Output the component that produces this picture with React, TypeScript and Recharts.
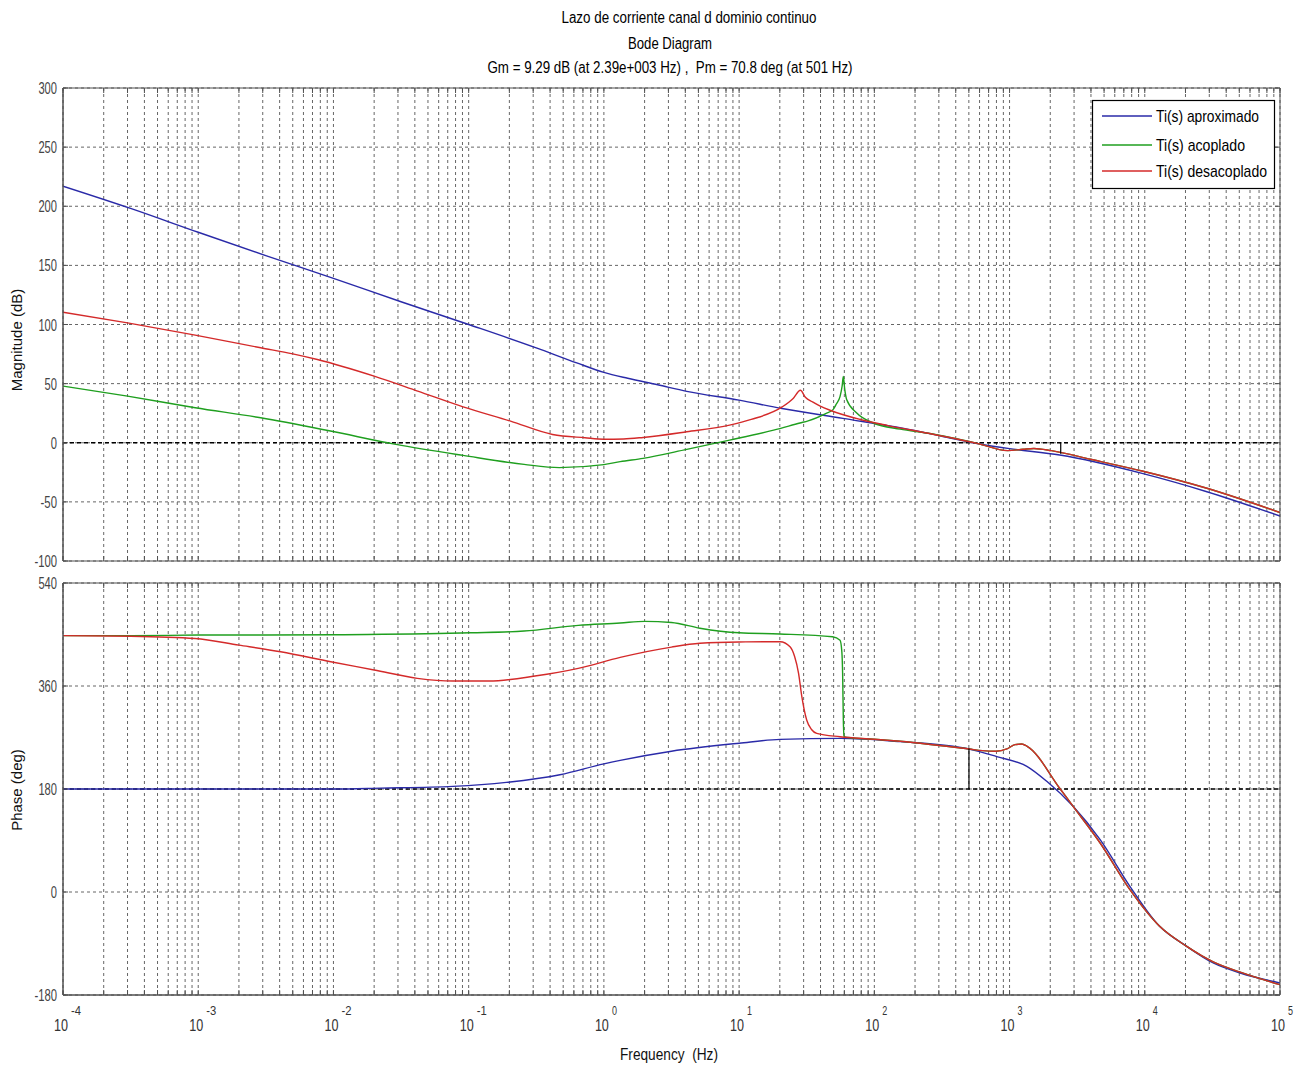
import React from "react";
import { LineChart, Line, XAxis, YAxis, CartesianGrid, ReferenceLine } from "recharts";

const FONT = '"Liberation Sans", Arial, sans-serif';

const BLUE = "#2a2aa8";
const GREEN = "#1f9f1f";
const RED = "#d42a2a";
const FRAME = "#505050";
const GRID = "#666666";

// x axis: decades and the minor steps in each
const xDecades = [1e-4, 1e-3, 1e-2, 1e-1, 1, 10, 100, 1000, 1e4, 1e5];
const xTickExponents = ["-4", "-3", "-2", "-1", "0", "1", "2", "3", "4", "5"];
const minorSteps = [1, 2, 3, 4, 5, 6, 7, 8, 9];

const magTicks = [-100, -50, 0, 50, 100, 150, 200, 250, 300];
const phaseTicks = [-180, 0, 180, 360, 540];

// margins read from the title
const GM_DB = 9.29;
const GM_FREQ = 2390;
const PM_DEG = 70.8;
const PM_FREQ = 501;

// ---- magnitude (dB) ----
const blueMagFreq = [1e-4, 3.2e-4, 1e-3, 3.2e-3, 1e-2, 3.2e-2, 0.1, 0.32, 0.63, 1, 1.5, 2.5, 4.1, 10, 20.8, 58.6, 165, 316, 575, 1000, 2350, 9550, 28800, 1e5];
const blueMagDb = [217, 198, 178, 158, 139, 119, 100, 80, 67.5, 59.5, 54.5, 49, 43.5, 36, 29, 20.6, 12.1, 5.5, -0.6, -5, -10.4, -25.9, -41.4, -62];

const greenMagFreq = [1e-4, 3e-4, 9.5e-4, 2.9e-3, 9.5e-3, 0.029, 0.091, 0.257, 0.468, 1, 1.32, 1.95, 4.1, 8.5, 18, 28.2, 32.4, 43.7, 49.5, 52.5, 55.8, 57.8, 59, 60.3, 62.5, 74.1, 98.4, 155, 251, 575, 968, 1259, 1514, 2042, 3981, 9550, 28800, 1e5];
const greenMagDb = [47.9, 39.4, 29.6, 21.1, 9.9, -1.4, -10.7, -18.3, -21, -18.5, -16, -13.2, -5.6, 2.2, 10.7, 16.7, 18.5, 24.7, 28, 33, 39.2, 48, 56, 46, 36.4, 25.2, 16.7, 11.5, 8, -0.5, -6.7, -5.5, -4.8, -6.7, -14, -23.9, -38.5, -59];

const redMagFreq = [1e-4, 3e-4, 9.5e-4, 2.9e-3, 5e-3, 7.6e-3, 0.02, 0.042, 0.091, 0.204, 0.417, 0.724, 1, 1.4, 1.95, 4.1, 8.5, 12.3, 20.8, 25.1, 28.4, 30.9, 34.9, 39.8, 47, 78.5, 126, 251, 575, 968, 1259, 1514, 2042, 3981, 9550, 28800, 1e5];
const redMagDb = [110.4, 101.4, 91, 80.3, 75.2, 70.4, 56.3, 43.7, 30.4, 18.3, 7, 4.2, 3, 3.2, 4.5, 9.3, 14.9, 19.7, 30.3, 37.5, 44.4, 38.5, 34.5, 31, 27.5, 19.7, 14.5, 8, -0.5, -6.7, -5.5, -4.8, -6.7, -14, -23.9, -38.5, -59];

// ---- phase (deg) ----
const bluePhaseFreq = [1e-4, 1e-3, 1e-2, 0.0224, 0.0767, 0.19, 0.473, 1, 1.32, 3.16, 10, 20.1, 56.2, 155, 501, 805, 1343, 1884, 2951, 4677, 7762, 12880, 20420, 32060, 50820, 1e5];
const bluePhaseDeg = [180, 180, 180, 181.5, 184.6, 191.6, 205, 224, 230, 246, 260, 266.8, 268.5, 262.7, 250, 236.5, 219.6, 193.4, 149.7, 91.5, 10, -60, -95, -124, -141.5, -159];

const greenPhaseFreq = [1e-4, 3.16e-4, 1e-3, 1e-2, 0.0178, 0.1035, 0.257, 0.646, 1.32, 2, 3.16, 5.13, 10, 20, 49, 55.8, 57.5, 58.3, 59, 59.6, 63.1, 100, 155, 501, 631, 794, 955, 1096, 1230, 1349, 2371, 2951, 4677, 7762, 12880, 20420, 32060, 50820, 1e5];
const greenPhaseDeg = [448, 448, 449, 449.5, 450, 453, 456, 466, 470, 473, 471, 461, 453, 451, 446, 440, 420, 380, 300, 272, 270, 267, 263.5, 250, 247, 246, 250, 257.5, 258.6, 254.6, 180, 149.7, 85.6, 4, -60, -95, -122, -140, -162];

const redPhaseFreq = [1e-4, 3.16e-4, 9.5e-4, 2e-3, 4.07e-3, 9.55e-3, 0.02, 0.0417, 0.0767, 0.141, 0.309, 0.646, 1.32, 3.16, 5.13, 10, 20.1, 23.8, 25.7, 27.5, 29.1, 31.6, 34.3, 37.5, 55.8, 100, 155, 501, 631, 794, 955, 1096, 1230, 1349, 2371, 2951, 4677, 7762, 12880, 20420, 32060, 50820, 1e5];
const redPhaseDeg = [448, 447, 443, 431.4, 419.8, 402.4, 388, 373.4, 368.7, 368.7, 377.4, 390.8, 410, 428, 434.6, 437, 437.4, 428.7, 412, 382.7, 341.3, 300.6, 284, 277.3, 271.4, 267, 263.5, 250, 247, 246, 250, 257.5, 258.6, 254.6, 180, 149.7, 85.6, 4, -60, -95, -122, -140, -162];

const toPoints = (f: number[], v: number[]) => f.map((x, i) => ({ f: x, v: v[i] }));

const xTicks = xDecades.flatMap((d, i) => (i === xDecades.length - 1 ? [d] : minorSteps.map((m) => m * d)));

const series = [
  { name: "Ti(s) aproximado", color: BLUE, width: 103, mag: toPoints(blueMagFreq, blueMagDb), phase: toPoints(bluePhaseFreq, bluePhaseDeg) },
  { name: "Ti(s) acoplado", color: GREEN, width: 89, mag: toPoints(greenMagFreq, greenMagDb), phase: toPoints(greenPhaseFreq, greenPhaseDeg) },
  { name: "Ti(s) desacoplado", color: RED, width: 111, mag: toPoints(redMagFreq, redMagDb), phase: toPoints(redPhaseFreq, redPhaseDeg) },
];

const X_DOMAIN: [number, number] = [1e-4, 1e5];

// narrow text, like the squeezed MATLAB export
function Narrow({ x, y, w, children, anchor = "start", size = 16, fill = "#000" }: any) {
  return (
    <text x={x} y={y} textAnchor={anchor} fontSize={size} fontFamily={FONT} fill={fill} textLength={w} lengthAdjust="spacingAndGlyphs" style={{ whiteSpace: "pre" }}>
      {children}
    </text>
  );
}

function FreqTick(props: any) {
  const { x, y, payload } = props;
  const i = xDecades.findIndex((d) => Math.abs(payload.value / d - 1) < 1e-6);
  if (i < 0) return <g />;
  const e = xTickExponents[i];
  return (
    <g>
      <Narrow x={x - 2} y={y + 28} w={14} anchor="middle" size={17} fill="#333">10</Narrow>
      <Narrow x={x + 8} y={y + 12} w={e.length * 5} size={12} fill="#333">{e}</Narrow>
    </g>
  );
}

function ValueTick(props: any) {
  const { x, y, payload } = props;
  const s = String(payload.value);
  const w = s.replace("-", "").length * 6.2 + (s.startsWith("-") ? 4 : 0);
  return (
    <Narrow x={x} y={y + 6} w={w} anchor="end" size={16} fill="#444">{s}</Narrow>
  );
}

const EmptyTick = () => <g />;

function frameAxes(domainY: [number, number]) {
  const yt = domainY[1] === 300 ? magTicks : phaseTicks;
  return [
    <XAxis key="xt" xAxisId="t" orientation="top" mirror dataKey="f" type="number" scale="log" domain={X_DOMAIN} allowDataOverflow ticks={xTicks} interval={0} tick={EmptyTick} tickSize={5} stroke={FRAME} />,
    <YAxis key="yr" yAxisId="r" orientation="right" mirror type="number" domain={domainY} allowDataOverflow ticks={yt} interval={0} tick={EmptyTick} tickSize={5} stroke={FRAME} />,
    <YAxis key="ylm" yAxisId="lm" orientation="left" mirror type="number" domain={domainY} allowDataOverflow ticks={yt} interval={0} tick={EmptyTick} tickSize={5} stroke={FRAME} />,
  ];
}

function MagnitudeChart() {
  const domainY: [number, number] = [-100, 300];
  return (
    <LineChart width={1303} height={600} margin={{ top: 88, right: 23, bottom: 39, left: 13 }} style={{ position: "absolute", left: 0, top: 0 }}>
      <CartesianGrid stroke={GRID} strokeDasharray="3 3" />
      <XAxis dataKey="f" type="number" scale="log" domain={X_DOMAIN} allowDataOverflow ticks={xTicks} interval={0} orientation="bottom" mirror tick={EmptyTick} tickSize={5} stroke={FRAME} />
      <YAxis type="number" domain={domainY} allowDataOverflow ticks={magTicks} interval={0} width={50} tickLine={false} tickSize={4} tick={<ValueTick />} stroke={FRAME} />
      {frameAxes(domainY)}
      <ReferenceLine y={0} stroke="#000" strokeDasharray="4 3" strokeWidth={1.4} />
      {series.map((s) => (
        <Line key={s.name} data={s.mag} dataKey="v" type="monotone" stroke={s.color} strokeWidth={1.4} dot={false} isAnimationActive={false} />
      ))}
      <ReferenceLine segment={[{ x: GM_FREQ, y: 0 }, { x: GM_FREQ, y: -GM_DB }]} stroke="#000" strokeWidth={1.2} />
    </LineChart>
  );
}

function PhaseChart() {
  const domainY: [number, number] = [-180, 540];
  return (
    <LineChart width={1303} height={508} margin={{ top: 23, right: 23, bottom: 33, left: 13 }} style={{ position: "absolute", left: 0, top: 560 }}>
      <CartesianGrid stroke={GRID} strokeDasharray="3 3" />
      <XAxis dataKey="f" type="number" scale="log" domain={X_DOMAIN} allowDataOverflow ticks={xTicks} orientation="bottom" height={40} tickLine={false} tick={<FreqTick />} stroke={FRAME} interval={0} />
      <XAxis xAxisId="bm" dataKey="f" type="number" scale="log" domain={X_DOMAIN} allowDataOverflow ticks={xTicks} interval={0} orientation="bottom" mirror tick={EmptyTick} tickSize={5} stroke={FRAME} />
      <YAxis type="number" domain={domainY} allowDataOverflow ticks={phaseTicks} width={50} tickLine={false} tickSize={4} tick={<ValueTick />} stroke={FRAME} interval={0} />
      {frameAxes(domainY)}
      <ReferenceLine y={180} stroke="#000" strokeDasharray="4 3" strokeWidth={1.4} />
      {series.map((s) => (
        <Line key={s.name} data={s.phase} dataKey="v" type="monotone" stroke={s.color} strokeWidth={1.4} dot={false} isAnimationActive={false} />
      ))}
      <ReferenceLine segment={[{ x: PM_FREQ, y: 180 }, { x: PM_FREQ, y: 180 + PM_DEG }]} stroke="#000" strokeWidth={1.2} />
    </LineChart>
  );
}

function Overlay() {
  const legendRows = [116, 145, 171];
  return (
    <svg width={1303} height={1068} style={{ position: "absolute", left: 0, top: 0, pointerEvents: "none" }}>
      <Narrow x={689} y={23} w={255} anchor="middle">Lazo de corriente canal d dominio continuo</Narrow>
      <Narrow x={670} y={49} w={84} anchor="middle">Bode Diagram</Narrow>
      <Narrow x={670} y={73} w={365} anchor="middle">{"Gm = 9.29 dB (at 2.39e+003 Hz) ,  Pm = 70.8 deg (at 501 Hz)"}</Narrow>
      <Narrow x={669} y={1060} w={98} anchor="middle" size={17} fill="#111">{"Frequency  (Hz)"}</Narrow>
      <g fontFamily={FONT} fontSize={15} fill="#111" textAnchor="middle">
        <text transform="translate(22,340) rotate(-90)">Magnitude (dB)</text>
        <text transform="translate(22,790) rotate(-90)">Phase (deg)</text>
      </g>
      <rect x={1092.5} y={100.5} width={182} height={88} fill="#fff" stroke="#000" strokeWidth={1.2} />
      {series.map((s, i) => (
        <g key={s.name}>
          <line x1={1102} x2={1152} y1={legendRows[i]} y2={legendRows[i]} stroke={s.color} strokeWidth={1.4} />
          <Narrow x={1156} y={legendRows[i] + 6} w={s.width} size={17}>{s.name}</Narrow>
        </g>
      ))}
    </svg>
  );
}

export default function App() {
  return (
    <div style={{ position: "absolute", left: 0, top: 0, width: 1303, height: 1068, background: "#fff" }}>
      <MagnitudeChart />
      <PhaseChart />
      <Overlay />
    </div>
  );
}
